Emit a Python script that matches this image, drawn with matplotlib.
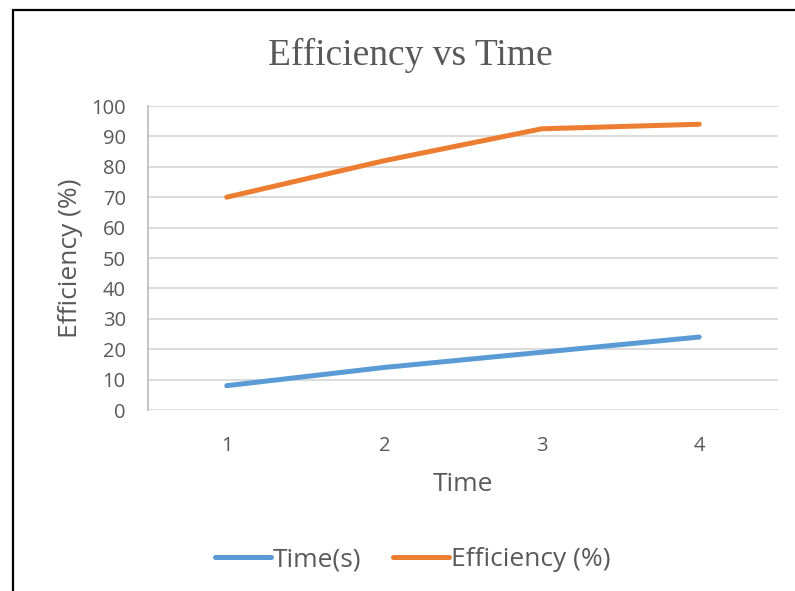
import matplotlib
matplotlib.use("Agg")
import matplotlib.pyplot as plt
from matplotlib.patches import Rectangle

# values
x_labels = ["1", "2", "3", "4"]
time_s = [8, 14, 19, 24]
efficiency = [70, 82, 92.5, 94]
y_ticks = list(range(0, 101, 10))

BLUE = "#5B9BD5"
ORANGE = "#ED7D31"
TXT = "#595959"
GRID = "#D9D9D9"
SANS = ["Open Sans", "DejaVu Sans"]

fig = plt.figure(figsize=(7.95, 5.91), dpi=100)
W, H = 795, 591

# outer chart border (cut off on the right and bottom)
fig.patches.append(Rectangle((13 / W, -0.1), 1.2, 1 - 10 / H + 0.1,
                             transform=fig.transFigure, fill=False,
                             edgecolor="black", lw=1.6))

ax = fig.add_axes([148 / W, 1 - 410 / H, (778 - 148) / W, (410 - 106) / H])
xs = range(1, len(x_labels) + 1)
ax.plot(xs, time_s, color=BLUE, lw=3.6, solid_capstyle="round",
        solid_joinstyle="round", label="Time(s)", zorder=3)
ax.plot(xs, efficiency, color=ORANGE, lw=3.6, solid_capstyle="round",
        solid_joinstyle="round", label="Efficiency (%)", zorder=3)

ax.set_xlim(0.5, len(x_labels) + 0.5)
ax.set_ylim(0, 100)
ax.set_yticks(y_ticks)
ax.set_xticks(list(xs))
ax.set_xticklabels(x_labels)
ax.grid(axis="y", color=GRID, lw=1.3)
ax.set_axisbelow(True)
for s in ["top", "right", "bottom"]:
    ax.spines[s].set_visible(False)
ax.spines["left"].set_color("#BFBFBF")
ax.spines["left"].set_linewidth(1.3)
ax.tick_params(length=0, colors=TXT, labelsize=14.5)
ax.tick_params(axis="y", pad=16)
ax.tick_params(axis="x", pad=19)
for lab in ax.get_xticklabels() + ax.get_yticklabels():
    lab.set_family(SANS)

ax.set_xlabel("Time", family=SANS, fontsize=19, color=TXT, labelpad=11)
ax.set_ylabel("Efficiency (%)", family=SANS, fontsize=19, color=TXT, labelpad=6)

fig.text(410 / W, 1 - 55 / H, "Efficiency vs Time", family="Liberation Serif",
         fontsize=27, color=TXT, ha="center", va="center")

leg = fig.legend(loc="center", bbox_to_anchor=(413 / W, 1 - 560 / H), ncol=2,
                 frameon=False, handlelength=2.1, handletextpad=0.1,
                 columnspacing=1.2, prop={"family": SANS, "size": 19})
for t in leg.get_texts():
    t.set_color(TXT)

fig.savefig("out.png", dpi=100)
